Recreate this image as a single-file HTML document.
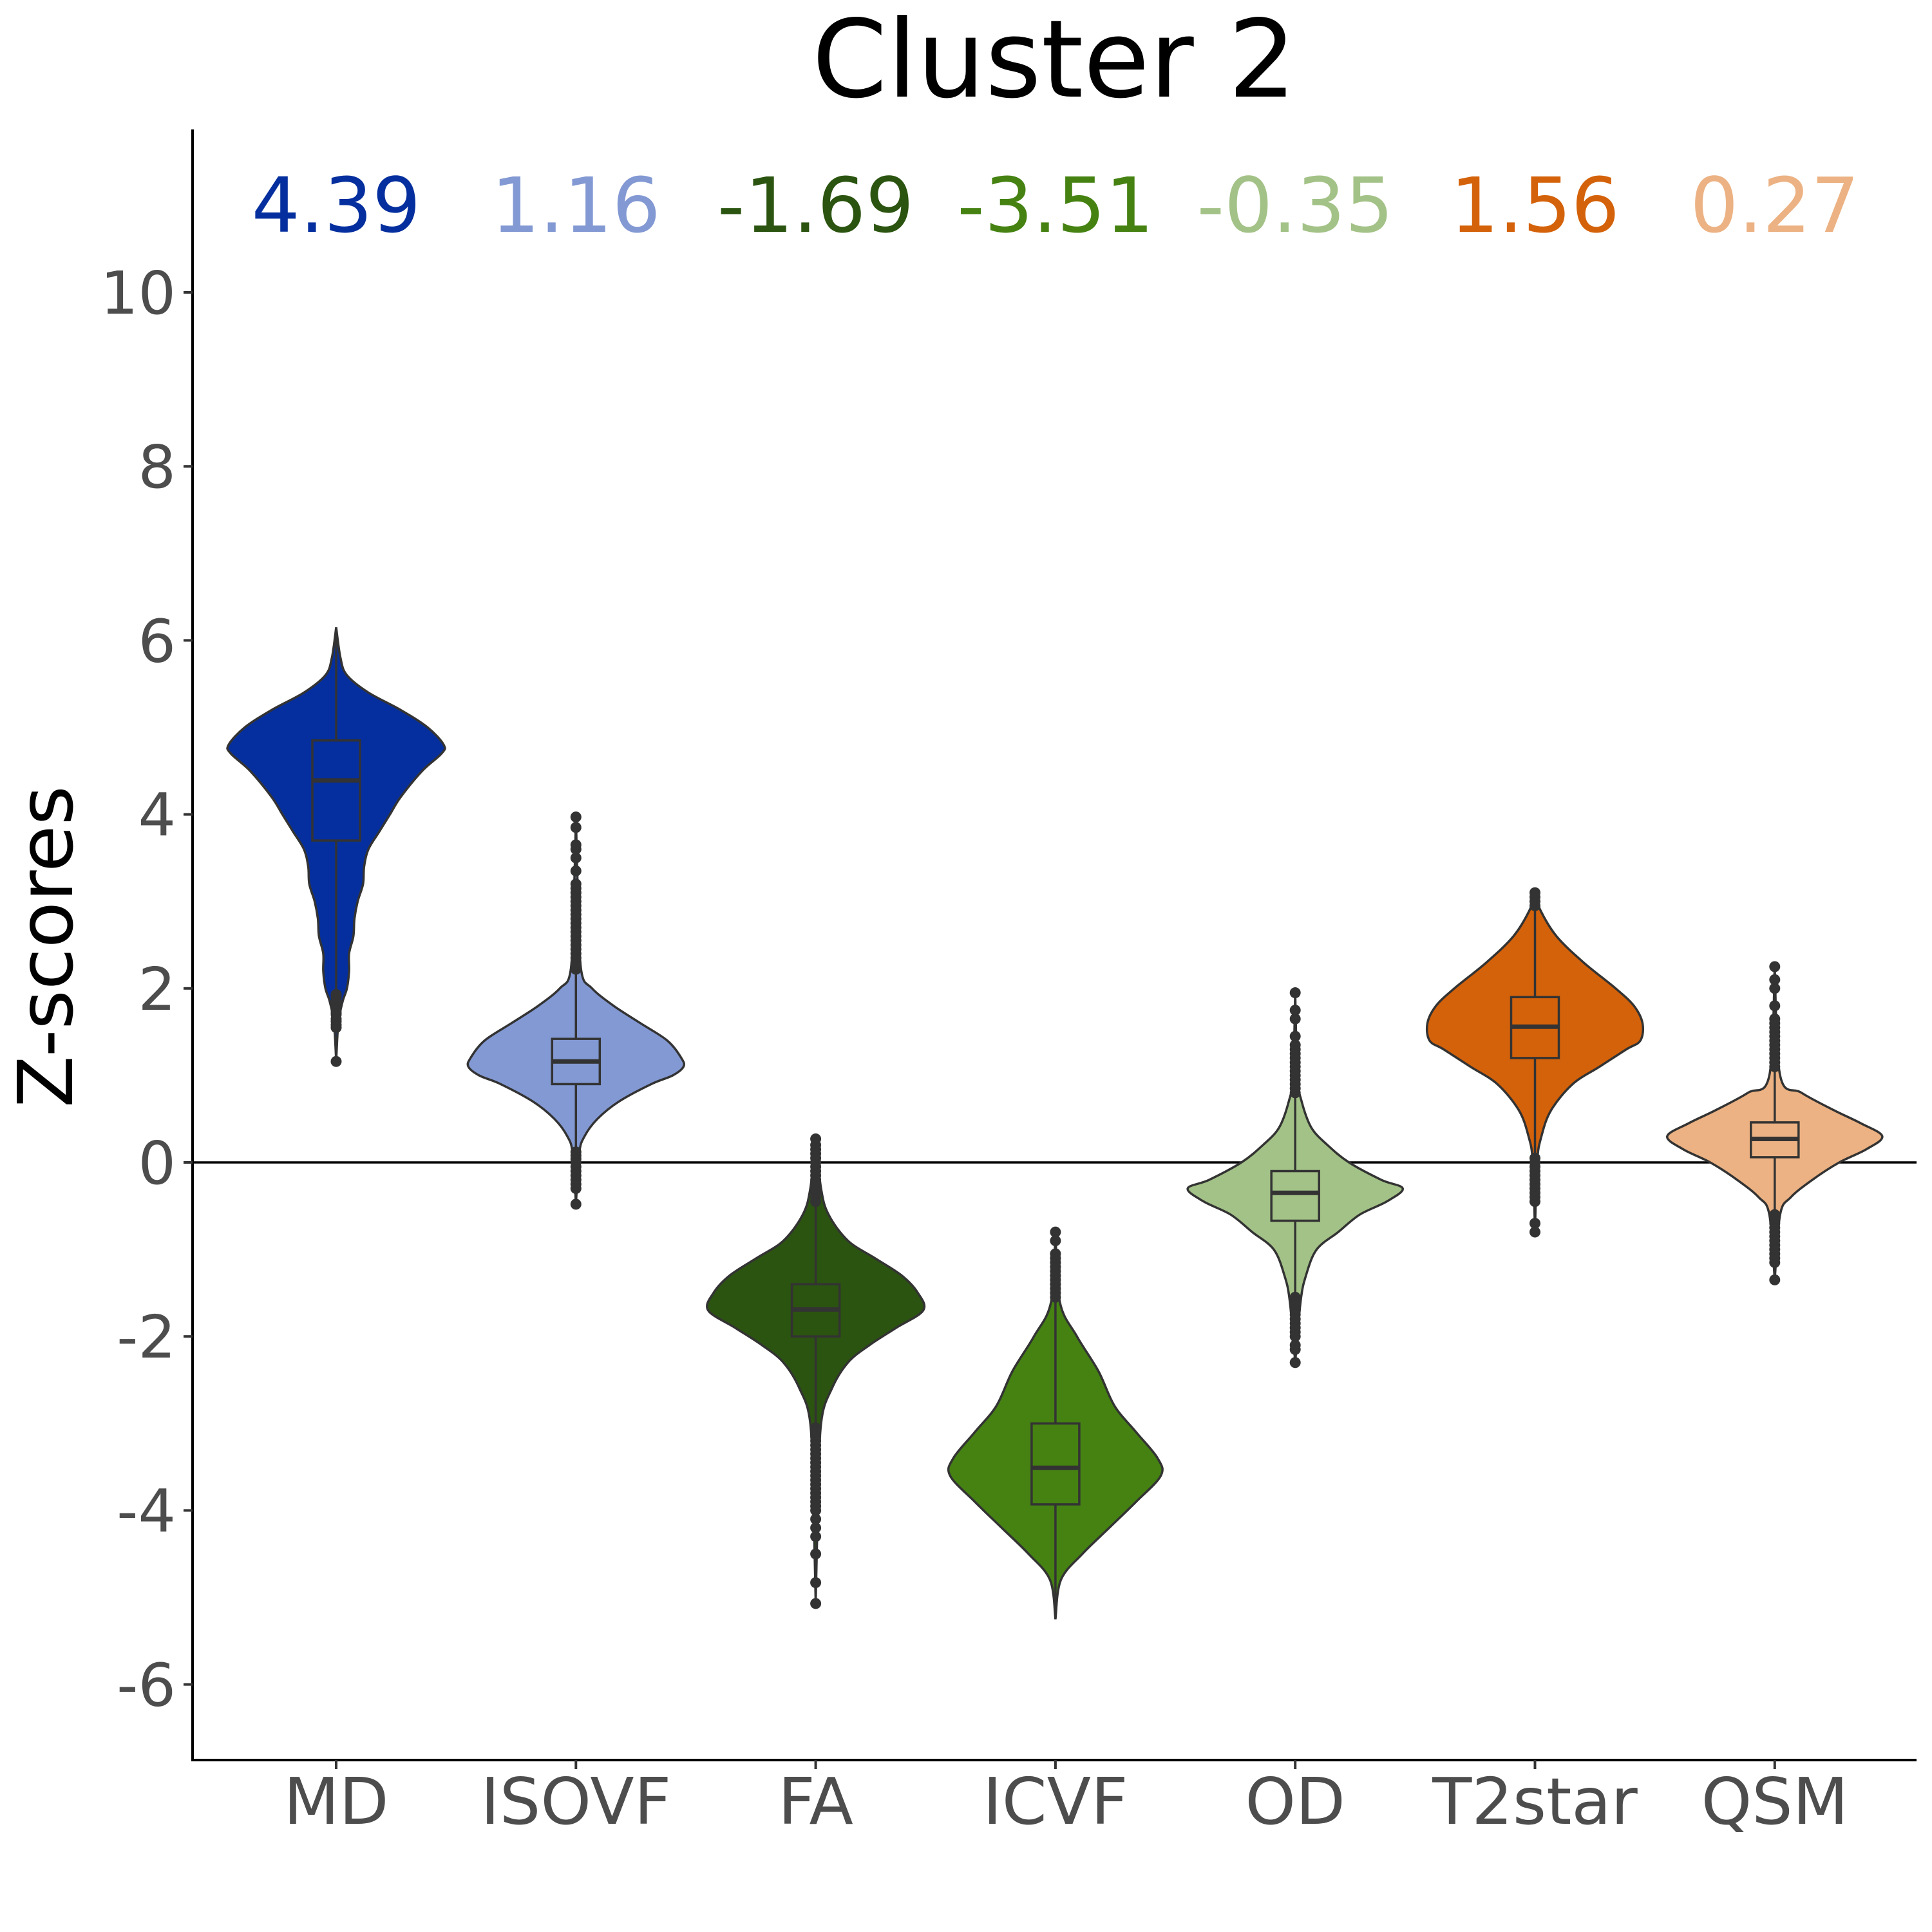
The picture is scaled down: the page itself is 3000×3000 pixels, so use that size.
<!DOCTYPE html>
<html><head><meta charset="utf-8">
<style>
html,body{margin:0;padding:0;background:#fff;}
svg{display:block;font-family:"DejaVu Sans","Liberation Sans",sans-serif;}
</style></head>
<body>
<svg id="chart" width="3000" height="3000" viewBox="0 0 3000 3000" xmlns="http://www.w3.org/2000/svg">
<text x="1637" y="150" font-size="167" text-anchor="middle" fill="#000">Cluster 2</text>
<text transform="translate(112,1470) rotate(-90)" font-size="118" text-anchor="middle" fill="#000">Z-scores</text>
<g id="plot"></g>
</svg>
<script>
const categories = ["MD","ISOVF","FA","ICVF","OD","T2star","QSM"];
const colors = ["#052f9e","#8399d3","#2b5410","#458212","#a3c287","#d4620a","#ecb283"];
const meanLabels = ["4.39","1.16","-1.69","-3.51","-0.35","1.56","0.27"];
const yTicks = [-6,-4,-2,0,2,4,6,8,10];
// density profiles: [value, relative half-width]
const profileMD = [[6.15,0],[5.8,0.04],[5.6,0.1],[5.4,0.3],[5.2,0.6],[5.0,0.85],[4.8,1.0],[4.7,0.98],[4.5,0.8],[4.2,0.6],[4.0,0.5],[3.8,0.4],[3.6,0.3],[3.4,0.26],[3.2,0.25],[3.0,0.2],[2.8,0.17],[2.6,0.16],[2.4,0.12],[2.2,0.12],[2.0,0.1],[1.85,0.06],[1.6,0.02],[1.16,0]];
const profileISOVF = [[3.97,0],[3.0,0.02],[2.2,0.05],[2.0,0.15],[1.8,0.35],[1.6,0.6],[1.4,0.85],[1.2,0.98],[1.1,1.0],[1.0,0.9],[0.9,0.7],[0.7,0.4],[0.5,0.2],[0.3,0.08],[0.1,0.03],[-0.48,0]];
const profileFA = [[0.27,0],[-0.3,0.05],[-0.6,0.12],[-0.9,0.3],[-1.1,0.55],[-1.3,0.8],[-1.5,0.95],[-1.7,1.0],[-1.9,0.75],[-2.1,0.5],[-2.3,0.3],[-2.6,0.15],[-3.0,0.05],[-4.0,0.02],[-5.07,0]];
const profileICVF = [[-0.8,0],[-1.6,0.04],[-2.0,0.2],[-2.4,0.4],[-2.8,0.55],[-3.1,0.75],[-3.4,0.95],[-3.6,0.98],[-3.9,0.75],[-4.2,0.5],[-4.5,0.25],[-4.8,0.05],[-5.25,0]];
const profileOD = [[1.95,0],[1.0,0.02],[0.7,0.06],[0.4,0.15],[0.2,0.3],[0.0,0.5],[-0.2,0.8],[-0.3,1.0],[-0.45,0.85],[-0.6,0.6],[-0.8,0.4],[-1.0,0.2],[-1.3,0.1],[-1.6,0.05],[-2.3,0]];
const profileT2star = [[3.1,0],[2.9,0.05],[2.6,0.2],[2.3,0.45],[2.0,0.75],[1.8,0.92],[1.6,1.0],[1.4,0.98],[1.3,0.85],[1.1,0.6],[0.9,0.35],[0.6,0.15],[0.3,0.06],[0.0,0.02],[-0.8,0]];
const profileQSM = [[2.25,0],[1.0,0.05],[0.8,0.25],[0.6,0.55],[0.45,0.8],[0.3,1.0],[0.15,0.85],[0.0,0.6],[-0.2,0.35],[-0.4,0.15],[-0.6,0.05],[-1.35,0]];
const profiles = [profileMD,profileISOVF,profileFA,profileICVF,profileOD,profileT2star,profileQSM];
// box stats: [lowerWhisker, q1, median, q3, upperWhisker]
const boxStats = [[1.95,3.7,4.39,4.85,6.15],[0.15,0.9,1.16,1.42,2.2],[-3.0,-2.0,-1.69,-1.4,-0.4],[-5.2,-3.93,-3.51,-3.0,-1.6],[-1.5,-0.67,-0.35,-0.1,0.75],[0.1,1.2,1.56,1.9,2.9],[-0.55,0.06,0.27,0.46,1.05]];
const outliersMD = [1.16,1.55,1.58,1.62,1.65,1.7,1.72,1.75,1.8,1.83,1.85,1.9,1.93];
const outliersISOVF = [2.22,2.27,2.3,2.35,2.4,2.45,2.5,2.55,2.6,2.65,2.7,2.75,2.8,2.85,2.9,2.95,3.0,3.05,3.1,3.15,3.2,3.35,3.5,3.6,3.65,3.85,3.97,0.12,0.08,0.04,0.0,-0.05,-0.1,-0.15,-0.2,-0.25,-0.3,-0.48];
const outliersFA = [-0.45,-0.4,-0.35,-0.3,-0.25,-0.2,-0.15,-0.1,-0.05,0.0,0.05,0.1,0.15,0.2,0.27,-3.05,-3.1,-3.15,-3.2,-3.25,-3.3,-3.35,-3.4,-3.45,-3.5,-3.55,-3.6,-3.65,-3.7,-3.75,-3.8,-3.85,-3.9,-3.95,-4.0,-4.1,-4.2,-4.3,-4.5,-4.83,-5.07];
const outliersICVF = [-0.8,-0.9,-1.05,-1.1,-1.15,-1.2,-1.25,-1.3,-1.35,-1.4,-1.45,-1.5,-1.55];
const outliersOD = [0.8,0.85,0.9,0.95,1.0,1.05,1.1,1.15,1.2,1.25,1.3,1.35,1.45,1.65,1.75,1.95,-1.55,-1.6,-1.65,-1.7,-1.75,-1.8,-1.85,-1.9,-1.95,-2.0,-2.1,-2.15,-2.3];
const outliersT2star = [2.95,3.0,3.05,3.1,0.05,0.0,-0.05,-0.1,-0.15,-0.2,-0.25,-0.3,-0.35,-0.4,-0.45,-0.7,-0.8];
const outliersQSM = [1.1,1.15,1.2,1.25,1.3,1.35,1.4,1.45,1.5,1.55,1.6,1.65,1.8,2.0,2.1,2.25,-0.6,-0.65,-0.7,-0.75,-0.8,-0.85,-0.9,-0.95,-1.0,-1.05,-1.1,-1.15,-1.35];
const outliers = [outliersMD,outliersISOVF,outliersFA,outliersICVF,outliersOD,outliersT2star,outliersQSM];

const NS="http://www.w3.org/2000/svg";
const plot=document.getElementById('plot');
const X0=299, X1=2976, YTOP=201, YBOT=2733;
function yScale(v){return 1805 - v*135.1;}
function xScale(i){return 522 + i*372.3;}
const HALF=167, BOXHALF=37;
function mk(tag,attrs){const e=document.createElementNS(NS,tag);for(const k in attrs)e.setAttribute(k,attrs[k]);return e;}
function smooth(pts){
  let d="M"+pts[0][0]+","+pts[0][1];
  for(let i=0;i<pts.length-1;i++){
    const p0=pts[Math.max(0,i-1)],p1=pts[i],p2=pts[i+1],p3=pts[Math.min(pts.length-1,i+2)];
    const c1=[p1[0]+(p2[0]-p0[0])/6,p1[1]+(p2[1]-p0[1])/6];
    const c2=[p2[0]-(p3[0]-p1[0])/6,p2[1]-(p3[1]-p1[1])/6];
    d+=" C"+c1[0]+","+c1[1]+" "+c2[0]+","+c2[1]+" "+p2[0]+","+p2[1];
  }
  return d;
}
const ya=mk('line',{x1:X0,y1:YTOP,x2:X0,y2:YBOT,stroke:'#000','stroke-width':4});


plot.appendChild(ya);
const xa=mk('line',{x1:X0-2,y1:YBOT,x2:X1,y2:YBOT,stroke:'#000','stroke-width':4});


plot.appendChild(xa);
const zl=mk('line',{x1:X0,y1:yScale(0),x2:X1,y2:yScale(0),stroke:'#000','stroke-width':3.5});


plot.appendChild(zl);
yTicks.forEach(t=>{
  const y=yScale(t);
  const tk=mk('line',{x1:X0-14,y1:y,x2:X0,y2:y,stroke:'#333','stroke-width':4});
  
  
  plot.appendChild(tk);
  const tx=mk('text',{x:X0-26,y:y+33,'font-size':92,'text-anchor':'end',fill:'#4d4d4d'});
  tx.textContent=(t<0?'-'+Math.abs(t):String(t));
  
  
  plot.appendChild(tx);
});
categories.forEach((c,i)=>{
  const cx=xScale(i);
  const tk=mk('line',{x1:cx,y1:YBOT,x2:cx,y2:YBOT+14,stroke:'#333','stroke-width':4});
  
  
  plot.appendChild(tk);
  const tx=mk('text',{x:cx,y:2832,'font-size':100,'text-anchor':'middle',fill:'#4d4d4d'});
  tx.textContent=c;
  
  
  plot.appendChild(tx);
  const ml=mk('text',{x:cx,y:360,'font-size':118,'text-anchor':'middle',fill:colors[i]});
  ml.textContent=meanLabels[i];
  
  
  plot.appendChild(ml);
  const prof=profiles[i];
  const right=prof.map(p=>[cx+p[1]*HALF,yScale(p[0])]);
  const left=prof.slice().reverse().map(p=>[cx-p[1]*HALF,yScale(p[0])]);
  const d=smooth(right)+" L"+smooth(left).slice(1)+" Z";
  const vp=mk('path',{d:d,fill:colors[i],stroke:'#333','stroke-width':3.5});
  
  
  plot.appendChild(vp);
  const b=boxStats[i];
  const w=mk('line',{x1:cx,y1:yScale(b[0]),x2:cx,y2:yScale(b[4]),stroke:'#333','stroke-width':3.5});
  
  
  plot.appendChild(w);
  const r=mk('rect',{x:cx-BOXHALF,y:yScale(b[3]),width:2*BOXHALF,height:yScale(b[1])-yScale(b[3]),fill:colors[i],stroke:'#333','stroke-width':3.5});
  
  
  plot.appendChild(r);
  const m=mk('line',{x1:cx-BOXHALF,y1:yScale(b[2]),x2:cx+BOXHALF,y2:yScale(b[2]),stroke:'#333','stroke-width':7});
  
  
  plot.appendChild(m);
  outliers[i].forEach(v=>{
    const o=mk('circle',{cx:cx,cy:yScale(v),r:8.5,fill:'#333'});
    
    
    plot.appendChild(o);
  });
});
</script>
</body></html>
